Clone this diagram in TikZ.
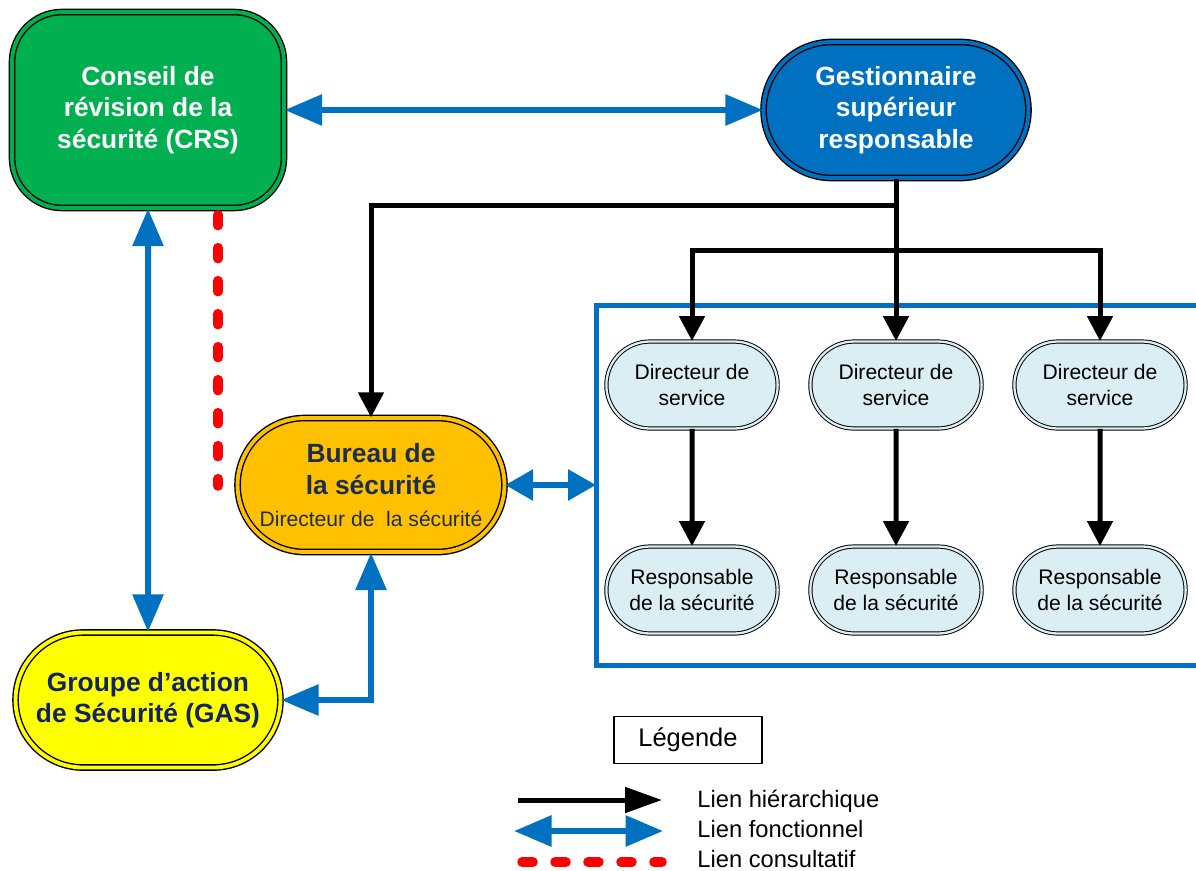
\documentclass[tikz,border=0pt]{standalone}
\usepackage{fontspec}
\setmainfont{Liberation Sans}
\usepackage{tikz}
\usetikzlibrary{arrows.meta,shapes.misc,positioning}
\definecolor{crsgreen}{HTML}{00B050}
\definecolor{gsrblue}{HTML}{0070C0}
\definecolor{bsgold}{HTML}{FFC000}
\definecolor{gasyellow}{HTML}{FFFF00}
\definecolor{dirblue}{HTML}{DAEEF3}
\definecolor{navytext}{HTML}{1F2D4D}
\definecolor{gasnavy}{HTML}{0F2366}
\definecolor{consultred}{HTML}{FF0000}

\begin{document}
\begin{tikzpicture}[x=0.02cm,y=-0.02cm,
  bigfont/.style={font=\bfseries\fontsize{15}{18}\selectfont},
  smallfont/.style={font=\fontsize{12}{14.7}\selectfont},
  dbl/.style={draw=black,line width=0.8pt,double=#1,double distance=2.2pt,fill=#1},
  pill/.style={rounded rectangle,minimum width=5.44cm,minimum height=2.72cm,align=center,inner sep=2pt},
  dirpill/.style={rounded rectangle,minimum width=3.66cm,minimum height=1.74cm,align=center,
    draw=black,line width=0.55pt,double=dirblue,double distance=1.3pt,fill=dirblue,smallfont},
  hier/.style={draw=black,line width=0.1cm,-{Triangle[length=0.5cm,width=0.5cm]}},
  funct/.style={draw=gsrblue,line width=0.12cm,
    {Triangle[length=0.75cm,width=0.6cm]}-{Triangle[length=0.75cm,width=0.6cm]}},
  consult/.style={draw=consultred,line width=0.19cm,line cap=round,dash pattern=on 0.22cm off 0.44cm},
  legtext/.style={anchor=base west,inner sep=0pt,font=\fontsize{13.5}{16}\selectfont}]
\useasboundingbox (0,0) rectangle (1196,870);

% main boxes
\node[rectangle,rounded corners=1cm,minimum width=5.44cm,minimum height=3.92cm,align=center,
  dbl=crsgreen,text=white,bigfont] (crs) at (148,110) {Conseil de\\révision de la\\sécurité (CRS)};
\node[pill,dbl=gsrblue,text=white,bigfont] (gsr) at (896,110) {Gestionnaire\\supérieur\\responsable};
\node[pill,minimum width=5.48cm,minimum height=2.68cm,dbl=bsgold,text=navytext,bigfont] (bureau) at (371,485)
  {Bureau de\\la sécurité\\{\normalfont\fontsize{12}{14}\selectfont Directeur de\ \ la sécurité}};
\node[pill,minimum height=2.7cm,dbl=gasyellow,text=gasnavy,bigfont] (gas) at (148,700) {Groupe d’action\\de Sécurité (GAS)};

% services
\node[dirpill] (dir1) at (692,385) {Directeur de\\service};
\node[dirpill] (dir2) at (896,385) {Directeur de\\service};
\node[dirpill] (dir3) at (1100,385) {Directeur de\\service};
\node[dirpill] (resp1) at (692,590) {Responsable\\de la sécurité};
\node[dirpill] (resp2) at (896,590) {Responsable\\de la sécurité};
\node[dirpill] (resp3) at (1100,590) {Responsable\\de la sécurité};

% frame round the services
\coordinate (fr-ne) at (1200,305);
\coordinate (fr-nw) at (596,305);
\coordinate (fr-sw) at (596,665);
\coordinate (fr-se) at (1200,665);
\draw[gsrblue,line width=0.1cm] (fr-ne) -- (fr-nw) -- (fr-sw) -- (fr-se);

% hierarchy
\coordinate (split) at (896,205);
\coordinate (fork) at (896,250);
\draw[hier] (gsr.south) -- (split) -| (bureau.north);
\draw[hier] (gsr.south) -- (dir2.north);
\draw[hier] (fork) -| (dir1.north);
\draw[hier] (fork) -| (dir3.north);
\draw[hier] (dir1) -- (resp1);
\draw[hier] (dir2) -- (resp2);
\draw[hier] (dir3) -- (resp3);

% functional links
\draw[funct] (crs) -- (gsr);
\draw[funct] (crs) -- (gas);
\draw[funct] (gas.east) -| (bureau.south);
\draw[funct,{Triangle[length=0.56cm,width=0.6cm]}-{Triangle[length=0.56cm,width=0.6cm]}]
  (bureau.east) -- (bureau.east -| fr-nw);

% consultative link
\coordinate (consult-end) at (218,486);
\draw[consult] (crs.south -| consult-end) ++(0,6) -- (consult-end);

% legend
\node[draw,line width=0.8pt,minimum width=2.96cm,minimum height=0.94cm,
  font=\fontsize{14.5}{17}\selectfont] (leg) at (688,740) {Légende};
\coordinate (h-a) at (518,800);
\coordinate (h-b) at (662,800);
\coordinate (f-a) at (514,831);
\coordinate (f-b) at (663,831);
\coordinate (c-a) at (522,862);
\coordinate (c-b) at (662,862);
\draw[hier,-{Triangle[length=0.74cm,width=0.5cm]}] (h-a) -- (h-b);
\draw[funct] (f-a) -- (f-b);
\draw[consult] (c-a) -- (c-b);
\node[legtext] (l-hier) at (697,807) {Lien hiérarchique};
\node[legtext] (l-funct) at (697,837) {Lien fonctionnel};
\node[legtext] (l-consult) at (697,867) {Lien consultatif};
\end{tikzpicture}
\end{document}
